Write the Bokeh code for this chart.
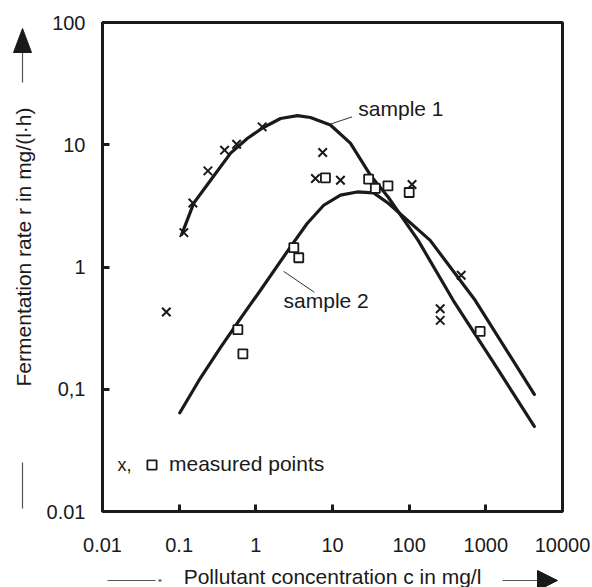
from bokeh.plotting import figure
from bokeh.layouts import row, column
from bokeh.models import Range1d, FixedTicker, Label, Legend, LegendItem
from bokeh.core.properties import value
from bokeh.embed import file_html
from bokeh.resources import INLINE

# ---------------- data ----------------
x_ticks = [0.01, 0.1, 1, 10, 100, 1000, 10000]
x_tick_labels = ["0.01", "0.1", "1", "10", "100", "1000", "10000"]
y_ticks = [0.01, 0.1, 1, 10, 100]
y_tick_labels = ["0.01", "0,1", "1", "10", "100"]

x_title = "Pollutant concentration c in mg/l"
y_title = "Fermentation rate r in mg/(l\u00b7h)"

# measured points, sample 1 (crosses)
s1_c = [0.068, 0.115, 0.151, 0.237, 0.391, 0.561, 1.21, 5.99, 7.45, 12.7, 109, 254, 254, 477]
s1_r = [0.428, 1.91, 3.34, 6.11, 9.03, 10.1, 14.0, 5.30, 8.65, 5.13, 4.73, 0.456, 0.366, 0.855]

# measured points, sample 2 (squares)
s2_c = [0.583, 0.678, 3.13, 3.63, 8.09, 29.6, 36.2, 52.9, 100, 843]
s2_r = [0.307, 0.195, 1.44, 1.19, 5.36, 5.23, 4.39, 4.61, 4.07, 0.297]

# fitted curves
curve1_c = [0.108, 0.155, 0.257, 0.469, 0.78, 1.22, 2.10, 3.49, 5.16, 9.39, 17.1, 31.2, 53.4, 131, 375, 1280, 4290]
curve1_r = [1.85, 3.33, 5.13, 8.54, 11.3, 13.7, 16.4, 17.3, 16.7, 14.5, 10.3, 5.64, 3.72, 1.65, 0.534, 0.163, 0.0496]
curve2_c = [0.102, 0.181, 0.347, 0.632, 1.15, 2.83, 4.67, 7.68, 12.7, 20.9, 34.4, 53.4, 188, 726, 4290]
curve2_r = [0.0642, 0.118, 0.22, 0.38, 0.645, 1.46, 2.27, 3.20, 3.87, 4.11, 4.04, 3.32, 1.65, 0.534, 0.0907]

# curve name labels and leader lines (data units)
curve_names = ["sample 1", "sample 2"]
name_c = [21.7, 2.3]
name_r = [19.9, 0.534]
leader_c0 = [9.39, 2.3]
leader_r0 = [14.75, 0.922]
leader_c1 = [18.0, 5.8]
leader_r1 = [16.9, 0.621]

FONT = "Liberation Sans"
INK = "#1a1a1a"
THIN = "#555555"


def strip(w, h, y0, y1):
    f = figure(width=w, height=h, x_range=Range1d(0, w), y_range=Range1d(y0, y1),
               min_border=0, toolbar_location=None, tools="", title=None,
               output_backend="svg", x_axis_location=None, y_axis_location=None)
    f.outline_line_color = None
    f.grid.visible = False
    f.background_fill_color = "white"
    f.border_fill_color = "white"
    return f


# ---------------- main chart ----------------
p = figure(width=552, height=562, x_axis_type="log", y_axis_type="log",
           x_range=Range1d(0.01, 10000), y_range=Range1d(0.01, 100),
           output_backend="svg", toolbar_location=None, tools="", title=None,
           min_border_left=62, min_border_right=30, min_border_top=22,
           min_border_bottom=51)
p.outline_line_color = INK
p.outline_line_width = 3
p.grid.visible = False
p.background_fill_color = "white"
p.border_fill_color = "white"

for ax in (p.xaxis[0], p.yaxis[0]):
    ax.axis_line_width = 3
    ax.axis_line_color = INK
    ax.major_tick_in = 7
    ax.major_tick_out = 0
    ax.major_tick_line_width = 3
    ax.major_tick_line_color = INK
    ax.minor_tick_line_color = None
    ax.major_label_text_font = FONT
    ax.major_label_text_font_size = "20px"
    ax.major_label_text_color = INK

p.xaxis.ticker = FixedTicker(ticks=x_ticks)
p.xaxis.major_label_overrides = dict(zip(x_ticks, x_tick_labels))
p.xaxis.major_label_standoff = 26
p.yaxis.ticker = FixedTicker(ticks=y_ticks)
p.yaxis.major_label_overrides = dict(zip(y_ticks, y_tick_labels))
p.yaxis.major_label_standoff = 17

# curves
p.line(curve1_c, curve1_r, line_width=3.2, line_color=INK, line_join="round", line_cap="round")
p.line(curve2_c, curve2_r, line_width=3.2, line_color=INK, line_join="round", line_cap="round")

# points
p.scatter(s1_c, s1_r, marker="x", size=12, line_width=2, line_color=INK)
sq = p.scatter(s2_c, s2_r, marker="square", size=9, line_width=1.8,
               line_color=INK, fill_color="white")

# curve names
p.segment(x0=leader_c0, y0=leader_r0, x1=leader_c1, y1=leader_r1,
          line_width=1, line_color="#333")
for t, cx, cy in zip(curve_names, name_c, name_r):
    p.add_layout(Label(x=cx, y=cy, text=t, text_font=FONT, text_font_size="21px",
                       text_color=INK, text_baseline="middle", text_align="left"))

# legend
p.add_layout(Label(x=15, y=47, x_units="screen", y_units="screen", text="x,",
                   text_font=FONT, text_font_size="18px", text_color=INK,
                   text_baseline="middle", text_align="left"))
legend = Legend(items=[LegendItem(label="measured points", renderers=[sq])],
                location=(38, 35), glyph_width=23, glyph_height=23,
                label_standoff=6, padding=0, margin=0, spacing=0,
                border_line_color=None, background_fill_alpha=0,
                label_text_font=FONT, label_text_font_size="21px",
                label_text_color=INK)
p.add_layout(legend)

# ---------------- left strip: y title and arrow ----------------
# its frame is aligned with the main frame (page y 22..511); units = 562 - page y
left = strip(40, 562, 51, 540)
left.text(x=[23], y=[315.5], text=[y_title], angle=1.5707963, text_align="center",
          text_baseline="middle", text_font=value(FONT), text_font_size=value("21px"),
          text_color=INK)
left.segment(x0=[22, 22], y0=[480, 100], x1=[22, 22], y1=[510, 54],
             line_width=1.2, line_color=THIN)
left.patch(x=[13, 31, 22], y=[510, 510, 534], fill_color=INK, line_color=INK)

# ---------------- bottom strip: x title and arrow ----------------
bottom = strip(592, 25, 0, 25)
bottom.text(x=[332], y=[11], text=[x_title], text_align="center",
            text_baseline="middle", text_font=value(FONT), text_font_size=value("21px"),
            text_color=INK)
bottom.segment(x0=[107, 502], y0=[7, 7], x1=[155, 538], y1=[7, 7],
               line_width=1.2, line_color=THIN)
bottom.segment(x0=[158], y0=[7], x1=[161], y1=[7], line_width=2, line_color=THIN)
bottom.patch(x=[537, 537, 557], y=[17, -3, 7], fill_color=INK, line_color=INK)

layout = column(row(left, p), bottom)
open("out.html", "w").write(file_html(layout, INLINE))
